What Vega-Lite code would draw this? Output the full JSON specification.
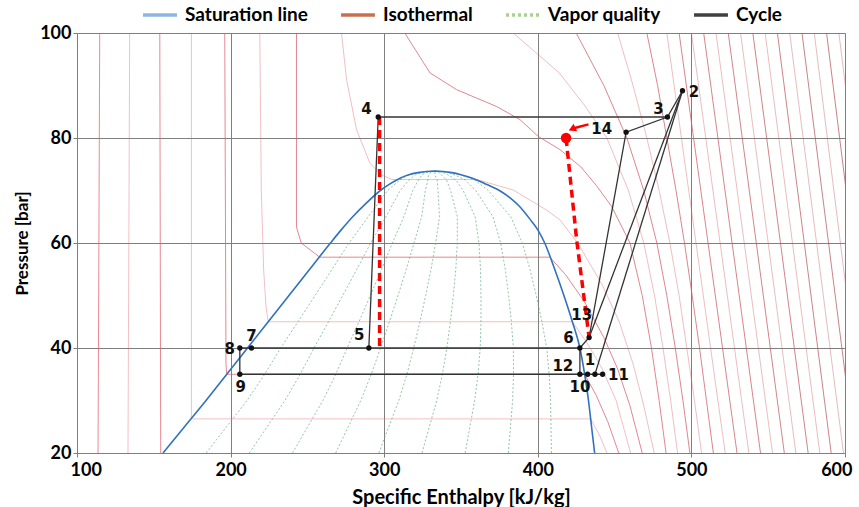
{
  "$schema": "https://vega.github.io/schema/vega-lite/v6.json",
  "width": 768,
  "height": 420,
  "autosize": {"type": "none"},
  "padding": {"left": 77, "top": 33, "right": 14, "bottom": 54},
  "background": "white",
  "datasets": {
    "sat": [
      {"h": 156, "p": 20}, {"h": 170, "p": 25}, {"h": 184, "p": 30}, {"h": 197.5, "p": 35}, {"h": 211, "p": 40},
      {"h": 224.5, "p": 45}, {"h": 238, "p": 50}, {"h": 251.5, "p": 55}, {"h": 265, "p": 60}, {"h": 272, "p": 62.5},
      {"h": 279.5, "p": 65}, {"h": 288, "p": 67.5}, {"h": 297.5, "p": 70}, {"h": 304, "p": 71.3}, {"h": 310, "p": 72.3},
      {"h": 316, "p": 73}, {"h": 322, "p": 73.4}, {"h": 327.5, "p": 73.63}, {"h": 333, "p": 73.7},
      {"h": 338.5, "p": 73.63}, {"h": 344, "p": 73.4}, {"h": 350, "p": 73}, {"h": 357, "p": 72.4}, {"h": 365, "p": 71.4},
      {"h": 375, "p": 70}, {"h": 382, "p": 68.6}, {"h": 388, "p": 67}, {"h": 395, "p": 64.5}, {"h": 400, "p": 62.5},
      {"h": 404.5, "p": 60}, {"h": 411, "p": 55}, {"h": 417, "p": 50},
      {"h": 422.5, "p": 45}, {"h": 427.4, "p": 40}, {"h": 430.5, "p": 35}, {"h": 433, "p": 30}, {"h": 435, "p": 25},
      {"h": 437, "p": 20}
    ],
    "quality": [
      {"q": 0.1, "p": 20, "h": 184.1}, {"q": 0.1, "p": 25, "h": 197.4}, {"q": 0.1, "p": 30, "h": 210.7}, {"q": 0.1, "p": 35, "h": 222.2}, {"q": 0.1, "p": 40, "h": 232.6}, {"q": 0.1, "p": 45, "h": 243.9}, {"q": 0.1, "p": 50, "h": 255}, {"q": 0.1, "p": 55, "h": 266.1}, {"q": 0.1, "p": 60, "h": 277.1}, {"q": 0.1, "p": 65, "h": 289.6}, {"q": 0.1, "p": 70, "h": 302.2}, {"q": 0.1, "p": 72, "h": 310.1}, {"q": 0.1, "p": 73, "h": 316.2}, {"q": 0.1, "p": 73.5, "h": 323.4}, {"q": 0.1, "p": 73.7, "h": 333},
      {"q": 0.2, "p": 20, "h": 212.2}, {"q": 0.2, "p": 25, "h": 223.8}, {"q": 0.2, "p": 30, "h": 235.4}, {"q": 0.2, "p": 35, "h": 245.3}, {"q": 0.2, "p": 40, "h": 254.3}, {"q": 0.2, "p": 45, "h": 263.7}, {"q": 0.2, "p": 50, "h": 273}, {"q": 0.2, "p": 55, "h": 282.2}, {"q": 0.2, "p": 60, "h": 291.2}, {"q": 0.2, "p": 65, "h": 301.2}, {"q": 0.2, "p": 70, "h": 310.4}, {"q": 0.2, "p": 72, "h": 316.2}, {"q": 0.2, "p": 73, "h": 320.4}, {"q": 0.2, "p": 73.5, "h": 325.8}, {"q": 0.2, "p": 73.7, "h": 333},
      {"q": 0.3, "p": 20, "h": 240.3}, {"q": 0.3, "p": 25, "h": 250.2}, {"q": 0.3, "p": 30, "h": 260.1}, {"q": 0.3, "p": 35, "h": 268.5}, {"q": 0.3, "p": 40, "h": 275.9}, {"q": 0.3, "p": 45, "h": 283.6}, {"q": 0.3, "p": 50, "h": 291}, {"q": 0.3, "p": 55, "h": 298.3}, {"q": 0.3, "p": 60, "h": 305.3}, {"q": 0.3, "p": 65, "h": 312.8}, {"q": 0.3, "p": 70, "h": 318.6}, {"q": 0.3, "p": 72, "h": 322.3}, {"q": 0.3, "p": 73, "h": 324.6}, {"q": 0.3, "p": 73.5, "h": 328.2}, {"q": 0.3, "p": 73.7, "h": 333},
      {"q": 0.4, "p": 20, "h": 268.4}, {"q": 0.4, "p": 25, "h": 276.6}, {"q": 0.4, "p": 30, "h": 284.8}, {"q": 0.4, "p": 35, "h": 291.6}, {"q": 0.4, "p": 40, "h": 297.6}, {"q": 0.4, "p": 45, "h": 303.4}, {"q": 0.4, "p": 50, "h": 309}, {"q": 0.4, "p": 55, "h": 314.4}, {"q": 0.4, "p": 60, "h": 319.4}, {"q": 0.4, "p": 65, "h": 324.4}, {"q": 0.4, "p": 70, "h": 326.8}, {"q": 0.4, "p": 72, "h": 328.4}, {"q": 0.4, "p": 73, "h": 328.8}, {"q": 0.4, "p": 73.5, "h": 330.6}, {"q": 0.4, "p": 73.7, "h": 333},
      {"q": 0.5, "p": 20, "h": 296.5}, {"q": 0.5, "p": 25, "h": 303}, {"q": 0.5, "p": 30, "h": 309.5}, {"q": 0.5, "p": 35, "h": 314.8}, {"q": 0.5, "p": 40, "h": 319.2}, {"q": 0.5, "p": 45, "h": 323.3}, {"q": 0.5, "p": 50, "h": 327}, {"q": 0.5, "p": 55, "h": 330.5}, {"q": 0.5, "p": 60, "h": 333.5}, {"q": 0.5, "p": 65, "h": 336}, {"q": 0.5, "p": 70, "h": 335}, {"q": 0.5, "p": 72, "h": 334.5}, {"q": 0.5, "p": 73, "h": 333}, {"q": 0.5, "p": 73.5, "h": 333}, {"q": 0.5, "p": 73.7, "h": 333},
      {"q": 0.6, "p": 20, "h": 324.6}, {"q": 0.6, "p": 25, "h": 329.4}, {"q": 0.6, "p": 30, "h": 334.2}, {"q": 0.6, "p": 35, "h": 337.9}, {"q": 0.6, "p": 40, "h": 340.8}, {"q": 0.6, "p": 45, "h": 343.1}, {"q": 0.6, "p": 50, "h": 345}, {"q": 0.6, "p": 55, "h": 346.6}, {"q": 0.6, "p": 60, "h": 347.6}, {"q": 0.6, "p": 65, "h": 347.6}, {"q": 0.6, "p": 70, "h": 343.2}, {"q": 0.6, "p": 72, "h": 340.6}, {"q": 0.6, "p": 73, "h": 337.2}, {"q": 0.6, "p": 73.5, "h": 335.4}, {"q": 0.6, "p": 73.7, "h": 333},
      {"q": 0.7, "p": 20, "h": 352.7}, {"q": 0.7, "p": 25, "h": 355.8}, {"q": 0.7, "p": 30, "h": 358.9}, {"q": 0.7, "p": 35, "h": 361.1}, {"q": 0.7, "p": 40, "h": 362.5}, {"q": 0.7, "p": 45, "h": 363}, {"q": 0.7, "p": 50, "h": 363}, {"q": 0.7, "p": 55, "h": 362.7}, {"q": 0.7, "p": 60, "h": 361.7}, {"q": 0.7, "p": 65, "h": 359.2}, {"q": 0.7, "p": 70, "h": 351.4}, {"q": 0.7, "p": 72, "h": 346.7}, {"q": 0.7, "p": 73, "h": 341.4}, {"q": 0.7, "p": 73.5, "h": 337.8}, {"q": 0.7, "p": 73.7, "h": 333},
      {"q": 0.8, "p": 20, "h": 380.8}, {"q": 0.8, "p": 25, "h": 382.2}, {"q": 0.8, "p": 30, "h": 383.6}, {"q": 0.8, "p": 35, "h": 384.2}, {"q": 0.8, "p": 40, "h": 384.1}, {"q": 0.8, "p": 45, "h": 382.8}, {"q": 0.8, "p": 50, "h": 381}, {"q": 0.8, "p": 55, "h": 378.8}, {"q": 0.8, "p": 60, "h": 375.8}, {"q": 0.8, "p": 65, "h": 370.8}, {"q": 0.8, "p": 70, "h": 359.6}, {"q": 0.8, "p": 72, "h": 352.8}, {"q": 0.8, "p": 73, "h": 345.6}, {"q": 0.8, "p": 73.5, "h": 340.2}, {"q": 0.8, "p": 73.7, "h": 333},
      {"q": 0.9, "p": 20, "h": 408.9}, {"q": 0.9, "p": 25, "h": 408.6}, {"q": 0.9, "p": 30, "h": 408.3}, {"q": 0.9, "p": 35, "h": 407.4}, {"q": 0.9, "p": 40, "h": 405.8}, {"q": 0.9, "p": 45, "h": 402.7}, {"q": 0.9, "p": 50, "h": 399}, {"q": 0.9, "p": 55, "h": 394.9}, {"q": 0.9, "p": 60, "h": 389.9}, {"q": 0.9, "p": 65, "h": 382.4}, {"q": 0.9, "p": 70, "h": 367.8}, {"q": 0.9, "p": 72, "h": 358.9}, {"q": 0.9, "p": 73, "h": 349.8}, {"q": 0.9, "p": 73.5, "h": 342.6}, {"q": 0.9, "p": 73.7, "h": 333}
    ],
    "iso": [
      {"T": -40, "i": 1, "h": 114.8, "p": 100}, {"T": -40, "i": 2, "h": 113.7, "p": 20},
      {"T": -30, "i": 1, "h": 134.3, "p": 100}, {"T": -30, "i": 2, "h": 133.2, "p": 20},
      {"T": -20, "i": 1, "h": 153.9, "p": 100}, {"T": -20, "i": 2, "h": 154.5, "p": 20},
      {"T": -10, "i": 1, "h": 174.5, "p": 100}, {"T": -10, "i": 2, "h": 174.5, "p": 26.5}, {"T": -10, "i": 3, "h": 434.4, "p": 26.5}, {"T": -10, "i": 4, "h": 440, "p": 23.5}, {"T": -10, "i": 5, "h": 445, "p": 20},
      {"T": 0, "i": 1, "h": 196.2, "p": 100}, {"T": 0, "i": 2, "h": 197, "p": 37}, {"T": 0, "i": 3, "h": 197.5, "p": 35}, {"T": 0, "i": 4, "h": 430.5, "p": 35}, {"T": 0, "i": 5, "h": 438, "p": 31}, {"T": 0, "i": 6, "h": 445.5, "p": 26}, {"T": 0, "i": 7, "h": 452.7, "p": 20},
      {"T": 10, "i": 1, "h": 219, "p": 100}, {"T": 10, "i": 2, "h": 220, "p": 70}, {"T": 10, "i": 3, "h": 221.5, "p": 55}, {"T": 10, "i": 4, "h": 223, "p": 48}, {"T": 10, "i": 5, "h": 224.5, "p": 45}, {"T": 10, "i": 6, "h": 422.5, "p": 45}, {"T": 10, "i": 7, "h": 432, "p": 41}, {"T": 10, "i": 8, "h": 442, "p": 36}, {"T": 10, "i": 9, "h": 451, "p": 30}, {"T": 10, "i": 10, "h": 460.4, "p": 20},
      {"T": 20, "i": 1, "h": 242.9, "p": 100}, {"T": 20, "i": 2, "h": 242.9, "p": 63}, {"T": 20, "i": 3, "h": 246, "p": 60}, {"T": 20, "i": 4, "h": 258, "p": 57.3}, {"T": 20, "i": 5, "h": 407.8, "p": 57.3}, {"T": 20, "i": 6, "h": 418, "p": 54}, {"T": 20, "i": 7, "h": 430, "p": 49}, {"T": 20, "i": 8, "h": 443, "p": 42}, {"T": 20, "i": 9, "h": 452, "p": 36}, {"T": 20, "i": 10, "h": 460, "p": 29}, {"T": 20, "i": 11, "h": 468, "p": 20},
      {"T": 30, "i": 1, "h": 272.2, "p": 100}, {"T": 30, "i": 2, "h": 275.5, "p": 91.1}, {"T": 30, "i": 3, "h": 282, "p": 81.6}, {"T": 30, "i": 4, "h": 290.7, "p": 75.2}, {"T": 30, "i": 5, "h": 298, "p": 73}, {"T": 30, "i": 6, "h": 305, "p": 72.1}, {"T": 30, "i": 7, "h": 360, "p": 72.1}, {"T": 30, "i": 8, "h": 384, "p": 70.1}, {"T": 30, "i": 9, "h": 405.6, "p": 66.3}, {"T": 30, "i": 10, "h": 414.4, "p": 64.4}, {"T": 30, "i": 11, "h": 426, "p": 60}, {"T": 30, "i": 12, "h": 442, "p": 52}, {"T": 30, "i": 13, "h": 453, "p": 45}, {"T": 30, "i": 14, "h": 462, "p": 37}, {"T": 30, "i": 15, "h": 469, "p": 29}, {"T": 30, "i": 16, "h": 475.8, "p": 20},
      {"T": 40, "i": 1, "h": 313.4, "p": 100}, {"T": 40, "i": 2, "h": 329.8, "p": 92.4}, {"T": 40, "i": 3, "h": 347.2, "p": 89.2}, {"T": 40, "i": 4, "h": 373.2, "p": 86}, {"T": 40, "i": 5, "h": 388.4, "p": 83.5}, {"T": 40, "i": 6, "h": 400.3, "p": 80.3}, {"T": 40, "i": 7, "h": 414.4, "p": 77.8}, {"T": 40, "i": 8, "h": 428, "p": 74.5}, {"T": 40, "i": 9, "h": 438, "p": 71}, {"T": 40, "i": 10, "h": 448, "p": 67}, {"T": 40, "i": 11, "h": 460, "p": 60}, {"T": 40, "i": 12, "h": 468, "p": 50}, {"T": 40, "i": 13, "h": 474, "p": 40}, {"T": 40, "i": 14, "h": 479, "p": 30}, {"T": 40, "i": 15, "h": 483.5, "p": 20},
      {"T": 50, "i": 1, "h": 384, "p": 100}, {"T": 50, "i": 2, "h": 414, "p": 92.4}, {"T": 50, "i": 3, "h": 431, "p": 86}, {"T": 50, "i": 4, "h": 445, "p": 80}, {"T": 50, "i": 5, "h": 459, "p": 70}, {"T": 50, "i": 6, "h": 469, "p": 60}, {"T": 50, "i": 7, "h": 476, "p": 50}, {"T": 50, "i": 8, "h": 481.5, "p": 40}, {"T": 50, "i": 9, "h": 486.5, "p": 30}, {"T": 50, "i": 10, "h": 491, "p": 20},
      {"T": 60, "i": 1, "h": 425, "p": 100}, {"T": 60, "i": 2, "h": 443, "p": 90}, {"T": 60, "i": 3, "h": 458, "p": 80}, {"T": 60, "i": 4, "h": 469, "p": 70}, {"T": 60, "i": 5, "h": 477.5, "p": 60}, {"T": 60, "i": 6, "h": 484, "p": 50}, {"T": 60, "i": 7, "h": 489.5, "p": 40}, {"T": 60, "i": 8, "h": 494.5, "p": 30}, {"T": 60, "i": 9, "h": 499, "p": 20},
      {"T": 70, "i": 1, "h": 452, "p": 100}, {"T": 70, "i": 2, "h": 462, "p": 90}, {"T": 70, "i": 3, "h": 471, "p": 80}, {"T": 70, "i": 4, "h": 479, "p": 70}, {"T": 70, "i": 5, "h": 486, "p": 60}, {"T": 70, "i": 6, "h": 492, "p": 50}, {"T": 70, "i": 7, "h": 497, "p": 40}, {"T": 70, "i": 8, "h": 502, "p": 30}, {"T": 70, "i": 9, "h": 506.6, "p": 20},
      {"T": 80, "i": 1, "h": 471, "p": 100}, {"T": 80, "i": 2, "h": 478, "p": 90}, {"T": 80, "i": 3, "h": 484, "p": 80}, {"T": 80, "i": 4, "h": 490, "p": 70}, {"T": 80, "i": 5, "h": 495.5, "p": 60}, {"T": 80, "i": 6, "h": 500.5, "p": 50}, {"T": 80, "i": 7, "h": 505.3, "p": 40}, {"T": 80, "i": 8, "h": 509.8, "p": 30}, {"T": 80, "i": 9, "h": 514.3, "p": 20},
      {"T": 90, "i": 1, "h": 484, "p": 100}, {"T": 90, "i": 2, "h": 522, "p": 20},
      {"T": 100, "i": 1, "h": 492, "p": 100}, {"T": 100, "i": 2, "h": 529.7, "p": 20},
      {"T": 110, "i": 1, "h": 500, "p": 100}, {"T": 110, "i": 2, "h": 537.4, "p": 20},
      {"T": 120, "i": 1, "h": 508, "p": 100}, {"T": 120, "i": 2, "h": 545, "p": 20},
      {"T": 130, "i": 1, "h": 516, "p": 100}, {"T": 130, "i": 2, "h": 552.8, "p": 20},
      {"T": 140, "i": 1, "h": 524, "p": 100}, {"T": 140, "i": 2, "h": 560.5, "p": 20},
      {"T": 150, "i": 1, "h": 532, "p": 100}, {"T": 150, "i": 2, "h": 568, "p": 20},
      {"T": 160, "i": 1, "h": 540, "p": 100}, {"T": 160, "i": 2, "h": 576, "p": 20},
      {"T": 170, "i": 1, "h": 548, "p": 100}, {"T": 170, "i": 2, "h": 583.6, "p": 20},
      {"T": 180, "i": 1, "h": 556, "p": 100}, {"T": 180, "i": 2, "h": 591, "p": 20},
      {"T": 190, "i": 1, "h": 564, "p": 100}, {"T": 190, "i": 2, "h": 599, "p": 20},
      {"T": 200, "i": 1, "h": 572, "p": 100}, {"T": 200, "i": 2, "h": 606.6, "p": 20},
      {"T": 210, "i": 1, "h": 580, "p": 100}, {"T": 210, "i": 2, "h": 614, "p": 20},
      {"T": 220, "i": 1, "h": 588, "p": 100}, {"T": 220, "i": 2, "h": 622, "p": 20},
      {"T": 230, "i": 1, "h": 596, "p": 100}, {"T": 230, "i": 2, "h": 630, "p": 20}
    ],
    "cycle": [
      {"s": 1, "i": 1, "h": 206, "p": 40}, {"s": 1, "i": 2, "h": 427.4, "p": 40},
      {"s": 2, "i": 1, "h": 206, "p": 35}, {"s": 2, "i": 2, "h": 442.2, "p": 35},
      {"s": 3, "i": 1, "h": 206, "p": 40}, {"s": 3, "i": 2, "h": 206, "p": 35},
      {"s": 4, "i": 1, "h": 427.4, "p": 40}, {"s": 4, "i": 2, "h": 427.4, "p": 35},
      {"s": 5, "i": 1, "h": 427.4, "p": 40}, {"s": 5, "i": 2, "h": 433.4, "p": 42}, {"s": 5, "i": 3, "h": 457.5, "p": 81.1}, {"s": 5, "i": 4, "h": 484.4, "p": 84}, {"s": 5, "i": 5, "h": 494.2, "p": 89},
      {"s": 6, "i": 1, "h": 494.2, "p": 89}, {"s": 6, "i": 2, "h": 433.4, "p": 42},
      {"s": 7, "i": 1, "h": 494.2, "p": 89}, {"s": 7, "i": 2, "h": 437.2, "p": 35},
      {"s": 8, "i": 1, "h": 296.1, "p": 84}, {"s": 8, "i": 2, "h": 484.4, "p": 84},
      {"s": 9, "i": 1, "h": 296.1, "p": 84}, {"s": 9, "i": 2, "h": 290, "p": 40}
    ],
    "reddash": [
      {"s": 1, "i": 1, "h": 297, "p": 84}, {"s": 1, "i": 2, "h": 297, "p": 40},
      {"s": 2, "i": 1, "h": 418.4, "p": 80}, {"s": 2, "i": 2, "h": 425.3, "p": 60.6}, {"s": 2, "i": 3, "h": 433.4, "p": 42}
    ],
    "pts": [
      {"n": "1", "h": 437.2, "p": 35}, {"n": "2", "h": 494.2, "p": 89}, {"n": "3", "h": 484.4, "p": 84},
      {"n": "4", "h": 296.1, "p": 84}, {"n": "5", "h": 290, "p": 40}, {"n": "6", "h": 427.4, "p": 40},
      {"n": "7", "h": 213.6, "p": 40}, {"n": "8", "h": 206, "p": 40}, {"n": "9", "h": 206, "p": 35},
      {"n": "10", "h": 432.4, "p": 35}, {"n": "11", "h": 442.2, "p": 35}, {"n": "12", "h": 427.4, "p": 35},
      {"n": "13", "h": 433.4, "p": 42}, {"n": "14", "h": 457.5, "p": 81.1}
    ],
    "labels": [
      {"n": "1", "h": 434, "p": 37.7}, {"n": "2", "h": 501.7, "p": 88.7}, {"n": "3", "h": 478.5, "p": 85.5},
      {"n": "4", "h": 288.5, "p": 85.5}, {"n": "5", "h": 283.7, "p": 42.5}, {"n": "6", "h": 419.9, "p": 42},
      {"n": "7", "h": 213.6, "p": 42.3}, {"n": "8", "h": 199.5, "p": 39.9}, {"n": "9", "h": 206.6, "p": 32.6},
      {"n": "10", "h": 427.4, "p": 32.6}, {"n": "11", "h": 452.5, "p": 34.8}, {"n": "12", "h": 416.3, "p": 36.6},
      {"n": "13", "h": 428.6, "p": 46.2}, {"n": "14", "h": 441.6, "p": 81.7}
    ],
    "reddot": [{"h": 418.4, "p": 80}],
    "arrow": [{"i": 1, "h": 433, "p": 82.6}, {"i": 2, "h": 424, "p": 81.9}],
    "arrowhead": [{"h": 422.3, "p": 81.7}]
  },
  "encoding": {
    "x": {"field": "h", "type": "quantitative", "scale": {"domain": [100, 600], "nice": false, "zero": false},
      "axis": {"values": [100, 200, 300, 400, 500, 600], "title": "Specific Enthalpy [kJ/kg]", "labelPadding": 4, "titlePadding": 8, "labelFlush": true, "labelFlushOffset": 7, "titleFontSize": 20}},
    "y": {"field": "p", "type": "quantitative", "scale": {"domain": [20, 100], "nice": false, "zero": false},
      "axis": {"values": [20, 40, 60, 80, 100], "title": "Pressure [bar]", "labelPadding": 2, "titlePadding": 8}}
  },
  "layer": [
    {"data": {"name": "quality"}, "mark": {"type": "line", "color": "#5fae7e", "strokeWidth": 1, "strokeDash": [2, 2], "opacity": 0.7},
      "encoding": {"detail": {"field": "q"}, "order": {"field": "p"}}},
    {"data": {"name": "iso"}, "transform": [{"filter": "datum.T % 20 != 0"}], "mark": {"type": "line", "strokeWidth": 1, "opacity": 0.4, "clip": true},
      "encoding": {"detail": {"field": "T"}, "order": {"field": "i"}, "stroke": {"field": "T", "type": "quantitative", "scale": {"domain": [-40, 230], "range": ["#e4606f", "#b35a5a"]}, "legend": null}}},
    {"data": {"name": "iso"}, "transform": [{"filter": "datum.T % 20 == 0"}], "mark": {"type": "line", "strokeWidth": 1, "opacity": 0.75, "clip": true},
      "encoding": {"detail": {"field": "T"}, "order": {"field": "i"}, "stroke": {"field": "T", "type": "quantitative", "scale": {"domain": [-40, 230], "range": ["#e4606f", "#b35a5a"]}, "legend": null}}},
    {"data": {"name": "sat"}, "mark": {"type": "line", "color": "#2f72bd", "strokeWidth": 1.6, "interpolate": "monotone"}, "encoding": {}},
    {"data": {"name": "sat"}, "mark": {"type": "line", "opacity": 0},
      "encoding": {"color": {"datum": "Saturation line", "scale": {"domain": ["Saturation line", "Isothermal", "Vapor quality", "Cycle"], "range": ["#8db4e2", "#c8704e", "#a9d08e", "#404040"]},
        "legend": {"orient": "top", "direction": "horizontal", "title": null, "symbolType": "stroke", "symbolSize": 1150, "symbolStrokeWidth": 3.5, "symbolOpacity": 1,
          "labelFont": "Lato", "labelFontSize": 19, "labelFontWeight": "bold", "labelColor": "#000", "columnPadding": 26, "labelOffset": 6, "offset": 8,
          "encode": {"symbols": {"update": {"strokeDash": {"signal": "datum.value === 'Vapor quality' ? [3, 3] : [1, 0]"}, "opacity": {"value": 1}}}}}}}},
    {"data": {"name": "cycle"}, "mark": {"type": "line", "color": "#333333", "strokeWidth": 1.3},
      "encoding": {"detail": {"field": "s"}, "order": {"field": "i"}}},
    {"data": {"name": "reddash"}, "mark": {"type": "line", "color": "#ff0000", "strokeWidth": 3.5, "strokeDash": [8, 5]},
      "encoding": {"detail": {"field": "s"}, "order": {"field": "i"}}},
    {"data": {"name": "pts"}, "mark": {"type": "point", "filled": true, "color": "#111111", "size": 28, "opacity": 1}, "encoding": {}},
    {"data": {"name": "labels"}, "mark": {"type": "text", "font": "DejaVu Sans", "fontSize": 15, "fontWeight": "bold", "color": "#111111", "align": "center", "baseline": "middle"},
      "encoding": {"text": {"field": "n"}}},
    {"data": {"name": "reddot"}, "mark": {"type": "point", "filled": true, "color": "#ff0000", "size": 110, "opacity": 1}, "encoding": {}},
    {"data": {"name": "arrow"}, "mark": {"type": "line", "color": "#ff0000", "strokeWidth": 2.5}, "encoding": {"order": {"field": "i"}}},
    {"data": {"name": "arrowhead"}, "mark": {"type": "point", "shape": "triangle-right", "filled": true, "color": "#ff0000", "size": 70, "angle": 155, "opacity": 1}, "encoding": {}}
  ],
  "config": {
    "view": {"stroke": null},
    "axis": {"grid": true, "gridColor": "#7f7f7f", "gridWidth": 1, "gridOpacity": 1, "domain": false, "ticks": true, "tickSize": 4, "tickColor": "#7f7f7f",
      "labelFont": "Lato", "labelFontSize": 18, "labelFontWeight": "bold", "labelColor": "#000",
      "titleFont": "Lato", "titleFontSize": 17, "titleFontWeight": "bold", "titleColor": "#000"},
    "legend": {"layout": {"top": {"anchor": "middle"}}}
  }
}
